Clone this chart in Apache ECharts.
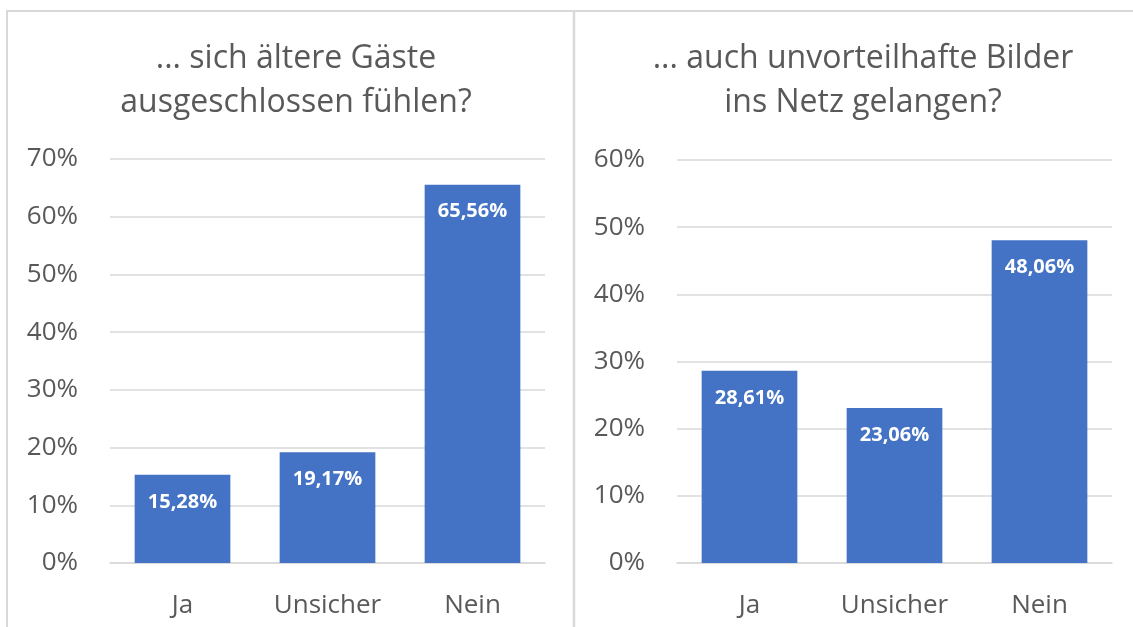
<!DOCTYPE html>
<html>
<head>
<meta charset="utf-8">
<script src="https://cdn.jsdelivr.net/npm/echarts@6/dist/echarts.min.js"></script>
<style>
  html, body { margin: 0; padding: 0; background: #fff; }
  #chart { width: 1133px; height: 627px; }
</style>
</head>
<body>
<div id="chart"></div>
<script>
const categories = ['Ja', 'Unsicher', 'Nein'];
const leftTitle = '... sich ältere Gäste\nausgeschlossen fühlen?';
const rightTitle = '... auch unvorteilhafte Bilder\nins Netz gelangen?';
const leftValues = [15.28, 19.17, 65.56];
const rightValues = [28.61, 23.06, 48.06];
const leftTicks = { min: 0, max: 70, interval: 10 };
const rightTicks = { min: 0, max: 60, interval: 10 };

const FONT = '"Open Sans", "Noto Sans", sans-serif';
const GREY = '#595959';
const BLUE = '#4472C4';

const pct = v => v.toFixed(2).replace('.', ',') + '%';

const chart = echarts.init(document.getElementById('chart'));

const xAxisBase = gridIndex => ({
  type: 'category',
  gridIndex,
  data: categories,
  axisTick: { show: false },
  axisLine: { lineStyle: { color: '#d9d9d9', width: 1.5 } },
  axisLabel: { color: GREY, fontSize: 26, fontFamily: FONT, margin: 30, interval: 0, hideOverlap: false },
});

const yAxisBase = (gridIndex, t) => ({
  type: 'value',
  gridIndex,
  min: t.min,
  max: t.max,
  interval: t.interval,
  axisLine: { show: false },
  axisTick: { show: false },
  splitLine: { lineStyle: { color: '#d9d9d9', width: 1.5 } },
  axisLabel: {
    color: GREY, fontSize: 26, fontFamily: FONT, margin: 32,
    formatter: v => v + '%',
  },
});

const seriesBase = (i, data) => ({
  type: 'bar',
  xAxisIndex: i,
  yAxisIndex: i,
  data,
  barWidth: '66%',
  itemStyle: { color: BLUE },
  label: {
    show: true,
    position: 'insideTop',
    distance: 17,
    color: '#fff',
    fontWeight: 'bold',
    fontSize: 20,
    fontFamily: FONT,
    formatter: p => pct(p.value),
  },
});

const titleStyle = {
  color: GREY, fontSize: 32, fontWeight: 'normal', fontFamily: FONT, lineHeight: 44, align: 'center',
};

chart.setOption({
  animation: false,
  title: [
    { text: leftTitle, left: 291, top: 32, textAlign: 'center', textStyle: titleStyle },
    { text: rightTitle, left: 858, top: 32, textAlign: 'center', textStyle: titleStyle },
  ],
  grid: [
    { left: 110, width: 435, top: 159, height: 404 },
    { left: 677, width: 435, top: 160, height: 403 },
  ],
  xAxis: [xAxisBase(0), xAxisBase(1)],
  yAxis: [yAxisBase(0, leftTicks), yAxisBase(1, rightTicks)],
  series: [seriesBase(0, leftValues), seriesBase(1, rightValues)],
  graphic: [
    { type: 'polyline', shape: { points: [[7, 640], [7, 11], [1140, 11]] },
      style: { stroke: '#d9d9d9', lineWidth: 2, fill: null }, silent: true },
    { type: 'line', shape: { x1: 574, y1: 11, x2: 574, y2: 640 },
      style: { stroke: '#d9d9d9', lineWidth: 2.5 }, silent: true },
  ],
});
</script>
</body>
</html>
